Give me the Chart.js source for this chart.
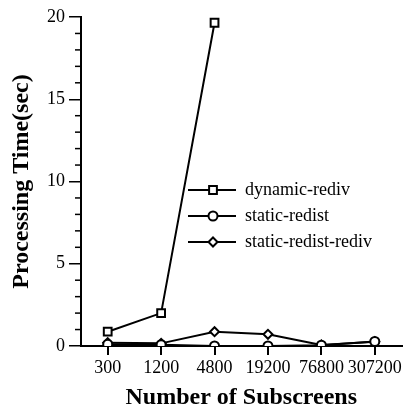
<!DOCTYPE html>
<html>
<head>
<meta charset="utf-8">
<script src="https://cdn.jsdelivr.net/npm/chart.js@4/dist/chart.umd.min.js"></script>
<style>
  html, body { margin: 0; padding: 0; background: #fff; }
  canvas { display: block; }
</style>
</head>
<body>
<canvas id="chart" width="409" height="410"></canvas>
<script>
// categories on the x axis (number of subscreens)
const subscreens = ['300', '1200', '4800', '19200', '76800', '307200'];

// processing time in seconds
const dynamicRediv = [0.87, 2.0, 19.65, null, null, null];
const staticRedist = [0.1, 0.08, 0.0, 0.0, 0.05, 0.28];
const staticRedistRediv = [0.2, 0.16, 0.87, 0.71, 0.06, 0.26];

const yTicks = [0, 5, 10, 15, 20];

const serif = '"Liberation Serif", "Times New Roman", serif';

// draws the small minor ticks on the y axis and the legend inside the plot
const extras = {
  id: 'extras',
  afterDraw(chart) {
    const ctx = chart.ctx;
    const y = chart.scales.y;
    const left = chart.chartArea.left;
    ctx.save();
    ctx.strokeStyle = '#000';
    ctx.lineWidth = 1.5;
    for (let v = y.min; v <= y.max; v++) {
      if (yTicks.includes(v)) continue;
      const py = y.getPixelForValue(v);
      ctx.beginPath();
      ctx.moveTo(left - 6, py);
      ctx.lineTo(left, py);
      ctx.stroke();
    }

    // legend
    const rows = [190, 216, 242];
    chart.data.datasets.forEach((ds, i) => {
      const ry = rows[i];
      ctx.lineWidth = 2;
      ctx.strokeStyle = '#000';
      ctx.beginPath();
      ctx.moveTo(188, ry);
      ctx.lineTo(236, ry);
      ctx.stroke();
      ctx.fillStyle = '#fff';
      Chart.helpers.drawPoint(ctx, {
        pointStyle: ds.pointStyle,
        radius: ds.pointRadius,
        borderWidth: ds.pointBorderWidth
      }, 213, ry);
      ctx.fillStyle = '#000';
      ctx.font = '18px ' + serif;
      ctx.textBaseline = 'middle';
      ctx.fillText(ds.label, 245, ry);
    });
    ctx.restore();
  }
};

const common = {
  borderColor: '#000',
  borderWidth: 2,
  pointBackgroundColor: '#fff',
  pointBorderColor: '#000',
  pointBorderWidth: 2,
  tension: 0,
  spanGaps: false,
  fill: false
};

new Chart(document.getElementById('chart'), {
  type: 'line',
  data: {
    labels: subscreens,
    datasets: [
      Object.assign({}, common, {
        label: 'dynamic-rediv',
        data: dynamicRediv,
        pointStyle: 'rect',
        pointRadius: 5.5
      }),
      Object.assign({}, common, {
        label: 'static-redist',
        data: staticRedist,
        pointStyle: 'circle',
        pointRadius: 4.5
      }),
      Object.assign({}, common, {
        label: 'static-redist-rediv',
        data: staticRedistRediv,
        pointStyle: 'rectRot',
        pointRadius: 4.5
      })
    ]
  },
  options: {
    responsive: false,
    animation: false,
    layout: { padding: { top: 17, right: 0, left: 0, bottom: 0 } },
    plugins: {
      legend: { display: false },
      tooltip: { enabled: false }
    },
    scales: {
      x: {
        offset: true,
        grid: {
          offset: false,
          drawOnChartArea: false,
          drawTicks: true,
          tickLength: 9,
          color: '#000',
          lineWidth: 2
        },
        border: { color: '#000', width: 2 },
        ticks: {
          color: '#000',
          font: { family: serif, size: 18 },
          padding: 2,
          maxRotation: 0,
          autoSkip: false
        },
        title: {
          display: true,
          text: 'Number of Subscreens',
          color: '#000',
          font: { family: serif, size: 24, weight: 'bold', lineHeight: 1 },
          padding: { top: 0, bottom: 0 }
        },
        afterFit: s => { s.height = 64; }
      },
      y: {
        min: 0,
        max: 20,
        afterBuildTicks: s => { s.ticks = yTicks.map(v => ({ value: v })); },
        grid: {
          drawOnChartArea: false,
          drawTicks: true,
          tickLength: 12,
          color: '#000',
          lineWidth: 1.5
        },
        border: { color: '#000', width: 2 },
        ticks: {
          color: '#000',
          font: { family: serif, size: 18 },
          padding: 4
        },
        title: {
          display: true,
          text: 'Processing Time(sec)',
          color: '#000',
          font: { family: serif, size: 24, weight: 'bold', lineHeight: 1 },
          padding: { top: 10, bottom: 0 }
        },
        afterFit: s => { s.width = 81; }
      }
    }
  },
  plugins: [extras]
});
</script>
</body>
</html>
